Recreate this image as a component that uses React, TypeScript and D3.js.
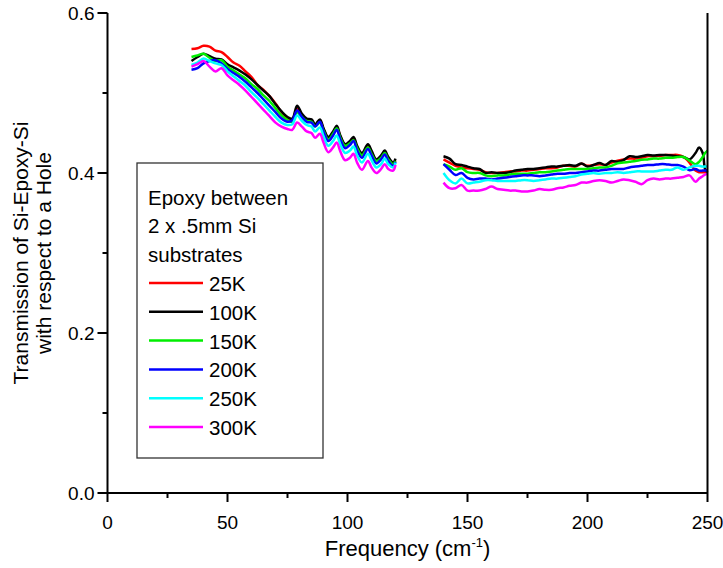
import React from 'react';
import * as d3 from 'd3';

// ---- data ----
const leftFreq = [35, 37.5, 40, 42.5, 45, 47.5, 50, 52.5, 55, 57.5, 60, 62.5, 65, 67.5, 70, 72.5, 75, 77, 79, 81, 83, 85, 86.5, 88.5, 90, 92, 94, 95.5, 97, 99, 101, 102.5, 104, 106, 108.5, 110, 112, 114, 115.5, 117, 119, 120];
const rightFreq = [140, 142.5, 145, 147.5, 150, 152.5, 155, 157.5, 160, 162.5, 165, 167.5, 170, 172.5, 175, 177.5, 180, 182.5, 185, 187.5, 190, 192.5, 195, 197.5, 200, 202.5, 205, 207.5, 210, 212.5, 215, 217.5, 220, 222.5, 225, 227.5, 230, 232.5, 235, 237.5, 240, 242.5, 245, 246.5, 248, 249, 250];

const k25Left = [0.555, 0.556, 0.559, 0.558, 0.553, 0.551, 0.545, 0.538, 0.534, 0.527, 0.520, 0.510, 0.504, 0.496, 0.487, 0.476, 0.469, 0.467, 0.480, 0.472, 0.467, 0.466, 0.460, 0.465, 0.455, 0.444, 0.450, 0.457, 0.446, 0.435, 0.438, 0.443, 0.432, 0.423, 0.434, 0.426, 0.416, 0.420, 0.426, 0.418, 0.412, 0.416];
const k100Left = [0.540, 0.545, 0.549, 0.546, 0.543, 0.542, 0.536, 0.532, 0.528, 0.523, 0.517, 0.510, 0.503, 0.496, 0.486, 0.477, 0.470, 0.468, 0.484, 0.474, 0.468, 0.467, 0.461, 0.467, 0.456, 0.445, 0.452, 0.459, 0.447, 0.436, 0.440, 0.445, 0.434, 0.425, 0.436, 0.428, 0.417, 0.422, 0.428, 0.420, 0.413, 0.418];
const k150Left = [0.545, 0.547, 0.549, 0.544, 0.540, 0.541, 0.533, 0.528, 0.523, 0.518, 0.511, 0.505, 0.497, 0.490, 0.481, 0.472, 0.466, 0.464, 0.476, 0.470, 0.465, 0.464, 0.458, 0.463, 0.453, 0.442, 0.449, 0.456, 0.444, 0.434, 0.437, 0.441, 0.431, 0.422, 0.432, 0.424, 0.415, 0.419, 0.425, 0.417, 0.411, 0.415];
const k200Left = [0.529, 0.531, 0.537, 0.540, 0.541, 0.537, 0.530, 0.525, 0.520, 0.514, 0.507, 0.500, 0.492, 0.484, 0.476, 0.468, 0.464, 0.466, 0.478, 0.470, 0.464, 0.463, 0.458, 0.464, 0.452, 0.440, 0.447, 0.454, 0.442, 0.431, 0.435, 0.440, 0.428, 0.419, 0.430, 0.422, 0.412, 0.417, 0.423, 0.415, 0.409, 0.414];
const k250Left = [0.535, 0.538, 0.543, 0.540, 0.537, 0.535, 0.527, 0.521, 0.515, 0.509, 0.501, 0.494, 0.486, 0.478, 0.470, 0.463, 0.460, 0.461, 0.472, 0.465, 0.460, 0.458, 0.452, 0.457, 0.446, 0.434, 0.440, 0.447, 0.436, 0.425, 0.428, 0.433, 0.422, 0.413, 0.424, 0.416, 0.407, 0.411, 0.418, 0.411, 0.407, 0.413];
const k300Left = [0.533, 0.536, 0.540, 0.533, 0.527, 0.531, 0.522, 0.516, 0.510, 0.503, 0.495, 0.487, 0.479, 0.471, 0.463, 0.458, 0.455, 0.454, 0.463, 0.458, 0.452, 0.450, 0.444, 0.449, 0.438, 0.426, 0.432, 0.438, 0.427, 0.416, 0.419, 0.424, 0.413, 0.404, 0.415, 0.407, 0.400, 0.405, 0.411, 0.405, 0.403, 0.410];

const k25Right = [0.417, 0.413, 0.409, 0.407, 0.406, 0.405, 0.404, 0.401, 0.400, 0.400, 0.401, 0.402, 0.402, 0.403, 0.403, 0.404, 0.405, 0.406, 0.406, 0.407, 0.409, 0.409, 0.408, 0.4115, 0.409, 0.410, 0.411, 0.410, 0.413, 0.4155, 0.417, 0.418, 0.418, 0.419, 0.421, 0.421, 0.4215, 0.4225, 0.4225, 0.4225, 0.420, 0.413, 0.403, 0.401, 0.401, 0.401, 0.401];
const k100Right = [0.421, 0.418, 0.411, 0.410, 0.408, 0.406, 0.405, 0.400, 0.401, 0.400, 0.400, 0.401, 0.403, 0.404, 0.405, 0.405, 0.406, 0.407, 0.408, 0.408, 0.409, 0.410, 0.409, 0.412, 0.408, 0.410, 0.4125, 0.410, 0.415, 0.414, 0.416, 0.421, 0.420, 0.421, 0.4225, 0.422, 0.4225, 0.4225, 0.422, 0.421, 0.420, 0.417, 0.425, 0.432, 0.425, 0.405, 0.401];
const k150Right = [0.411, 0.408, 0.404, 0.406, 0.401, 0.400, 0.400, 0.397, 0.396, 0.397, 0.397, 0.398, 0.399, 0.399, 0.399, 0.400, 0.401, 0.401, 0.402, 0.403, 0.404, 0.405, 0.405, 0.405, 0.405, 0.406, 0.407, 0.407, 0.409, 0.412, 0.413, 0.414, 0.415, 0.4165, 0.417, 0.418, 0.418, 0.419, 0.419, 0.420, 0.420, 0.4155, 0.411, 0.414, 0.420, 0.425, 0.428];
const k200Right = [0.411, 0.404, 0.3975, 0.400, 0.394, 0.392, 0.393, 0.393, 0.392, 0.393, 0.394, 0.395, 0.396, 0.397, 0.397, 0.397, 0.396, 0.397, 0.398, 0.399, 0.399, 0.400, 0.400, 0.401, 0.402, 0.403, 0.403, 0.404, 0.405, 0.405, 0.405, 0.407, 0.408, 0.409, 0.410, 0.410, 0.411, 0.411, 0.410, 0.410, 0.408, 0.4035, 0.405, 0.403, 0.403, 0.403, 0.403];
const k250Right = [0.400, 0.391, 0.387, 0.393, 0.387, 0.388, 0.389, 0.391, 0.391, 0.390, 0.390, 0.390, 0.390, 0.391, 0.391, 0.390, 0.391, 0.392, 0.393, 0.393, 0.394, 0.395, 0.396, 0.398, 0.399, 0.400, 0.399, 0.400, 0.400, 0.401, 0.400, 0.401, 0.402, 0.402, 0.402, 0.402, 0.403, 0.404, 0.404, 0.407, 0.404, 0.407, 0.409, 0.409, 0.408, 0.408, 0.408];
const k300Right = [0.388, 0.381, 0.381, 0.385, 0.378, 0.378, 0.378, 0.380, 0.383, 0.380, 0.379, 0.378, 0.378, 0.377, 0.377, 0.378, 0.380, 0.379, 0.379, 0.381, 0.382, 0.384, 0.385, 0.388, 0.388, 0.390, 0.391, 0.390, 0.388, 0.390, 0.392, 0.391, 0.389, 0.386, 0.391, 0.393, 0.392, 0.393, 0.393, 0.394, 0.395, 0.397, 0.389, 0.393, 0.396, 0.398, 0.399];

const seriesNames = ['25K', '100K', '150K', '200K', '250K', '300K'];
const seriesColors = ['#ff0000', '#000000', '#00ee00', '#0000ff', '#00ffff', '#ff00ff'];
const leftValues = [k25Left, k100Left, k150Left, k200Left, k250Left, k300Left];
const rightValues = [k25Right, k100Right, k150Right, k200Right, k250Right, k300Right];

const legendTitle = ['Epoxy between', '2 x .5mm Si', 'substrates'];
const xMajorTicks = [0, 50, 100, 150, 200, 250];
const xMinorTicks = [25, 75, 125, 175, 225];
const yMajorTicks = [0, 0.2, 0.4, 0.6];
const yMinorTicks = [0.1, 0.3, 0.5];

const FONT = '"Liberation Sans", Arial, Helvetica, sans-serif';

export default function App() {
  const W = 723, H = 568;
  const x = d3.scaleLinear().domain([0, 250]).range([107.5, 707.5]);
  const y = d3.scaleLinear().domain([0, 0.6]).range([493, 13]);
  const line = d3.line<[number, number]>()
    .x(d => x(d[0]))
    .y(d => y(d[1]))
    .curve(d3.curveCatmullRom.alpha(0.5));
  const fmt = d3.format('.1f');

  const legX = 137, legY = 163, legW = 186, legH = 295;
  const rowH = 28.8;
  const firstRow = 196.6;

  return (
    <svg width={W} height={H} style={{ position: 'absolute', left: 0, top: 0, background: '#fff' }} fontFamily={FONT}>
      <rect x={0} y={0} width={W} height={H} fill="#fff" />
      {/* data */}
      {seriesNames.map((name, i) => (
        <g key={name} fill="none" stroke={seriesColors[i]} strokeWidth={2.5} strokeLinejoin="round">
          <path d={line(leftFreq.map((f, j) => [f, leftValues[i][j]] as [number, number])) || ''} />
          <path d={line(rightFreq.map((f, j) => [f, rightValues[i][j]] as [number, number])) || ''} />
        </g>
      ))}
      {/* axes */}
      <g stroke="#000" strokeWidth={2} fill="none">
        <line x1={x(0)} x2={x(0)} y1={y(0.6)} y2={y(0)} />
        <line x1={x(0)} x2={x(250)} y1={y(0)} y2={y(0)} />
        <line x1={x(250)} x2={x(250)} y1={y(0.6)} y2={y(0)} />
        {xMajorTicks.map(t => <line key={'xM' + t} x1={x(t)} x2={x(t)} y1={y(0)} y2={y(0) + 9} />)}
        {xMinorTicks.map(t => <line key={'xm' + t} x1={x(t)} x2={x(t)} y1={y(0)} y2={y(0) + 5} />)}
        {yMajorTicks.map(t => <line key={'yM' + t} x1={x(0) - 10} x2={x(0)} y1={y(t)} y2={y(t)} />)}
        {yMinorTicks.map(t => <line key={'ym' + t} x1={x(0) - 5} x2={x(0)} y1={y(t)} y2={y(t)} />)}
      </g>
      <g fontSize={19} fill="#000">
        {xMajorTicks.map(t => (
          <text key={'xl' + t} x={x(t)} y={y(0) + 36} textAnchor="middle">{t}</text>
        ))}
        {yMajorTicks.map(t => (
          <text key={'yl' + t} x={x(0) - 13} y={y(t) + 7} textAnchor="end">{fmt(t)}</text>
        ))}
      </g>
      {/* axis titles */}
      <text x={(x(0) + x(250)) / 2} y={556} textAnchor="middle" fontSize={22} fill="#000">
        Frequency (cm<tspan dy={-9} fontSize={13}>-1</tspan><tspan dy={9}>)</tspan>
      </text>
      <g transform={`translate(0, ${(y(0) + y(0.6)) / 2}) rotate(-90)`} fontSize={21} fill="#000" textAnchor="middle">
        <text x={0} y={28}>Transmission of Si-Epoxy-Si</text>
        <text x={0} y={51}>with respect to a Hole</text>
      </g>
      {/* legend */}
      <rect x={legX} y={legY} width={legW} height={legH} fill="#fff" stroke="#333" strokeWidth={1.3} />
      <g fontSize={20.5} fill="#000">
        {legendTitle.map((t, i) => (
          <text key={t} x={148} y={firstRow + i * rowH + 8}>{t}</text>
        ))}
        {seriesNames.map((name, i) => {
          const cy = firstRow + (i + 3) * rowH;
          return (
            <g key={'leg' + name}>
              <line x1={149} x2={203} y1={cy} y2={cy} stroke={seriesColors[i]} strokeWidth={2.5} />
              <text x={209} y={cy + 8}>{name}</text>
            </g>
          );
        })}
      </g>
    </svg>
  );
}
